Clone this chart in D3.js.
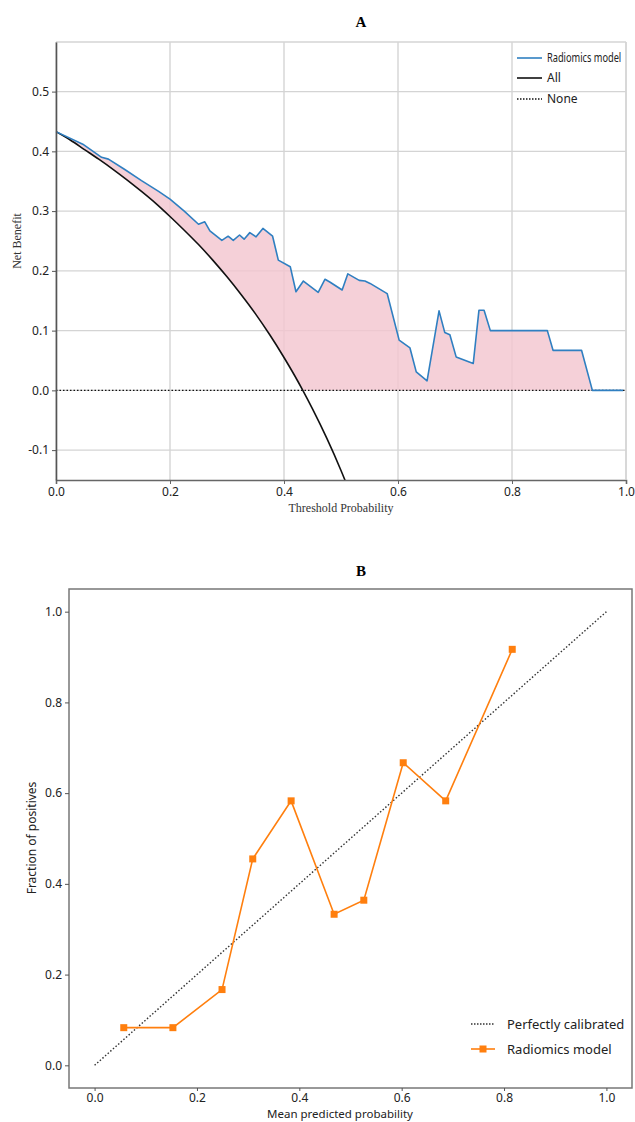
<!DOCTYPE html>
<html>
<head>
<meta charset="utf-8">
<script src="https://cdn.jsdelivr.net/npm/d3@7"></script>
<style>
  body { margin: 0; background: #fff; }
  .tick text { font-family: "Noto Sans", "Open Sans", sans-serif; font-size: 12px; fill: #222; }
  .serif { font-family: "Liberation Serif", "DejaVu Serif", serif; }
</style>
</head>
<body>
<div id="chart"></div>
<script>
// decision curve (A)
var modelThreshold = [0, 0.047, 0.080, 0.092, 0.12, 0.15, 0.18, 0.2, 0.225, 0.25, 0.261, 0.270, 0.291, 0.302, 0.311, 0.322, 0.330, 0.340, 0.351, 0.363, 0.380, 0.390, 0.411, 0.421, 0.434, 0.460, 0.472, 0.481, 0.502, 0.512, 0.532, 0.542, 0.551, 0.581, 0.602, 0.621, 0.632, 0.651, 0.672, 0.682, 0.691, 0.702, 0.732, 0.742, 0.751, 0.762, 0.862, 0.872, 0.922, 0.941, 0.995];
var modelNB = [0.433, 0.412, 0.390, 0.387, 0.370, 0.351, 0.333, 0.320, 0.300, 0.278, 0.282, 0.267, 0.251, 0.258, 0.251, 0.260, 0.253, 0.264, 0.257, 0.271, 0.258, 0.218, 0.207, 0.165, 0.183, 0.164, 0.186, 0.181, 0.168, 0.195, 0.184, 0.183, 0.179, 0.162, 0.084, 0.071, 0.031, 0.016, 0.133, 0.097, 0.093, 0.056, 0.045, 0.134, 0.134, 0.100, 0.100, 0.067, 0.067, 0.0, 0.0];
var allThreshold = [0, 0.025, 0.05, 0.075, 0.1, 0.125, 0.15, 0.175, 0.2, 0.225, 0.25, 0.275, 0.3, 0.325, 0.35, 0.375, 0.4, 0.425, 0.433, 0.45, 0.475, 0.5, 0.525];
var allNB = [0.433, 0.419, 0.403, 0.387, 0.370, 0.352, 0.333, 0.313, 0.291, 0.268, 0.244, 0.218, 0.190, 0.160, 0.128, 0.093, 0.055, 0.014, 0.0, -0.031, -0.080, -0.134, -0.194];
var dcaXTicks = [0, 0.2, 0.4, 0.6, 0.8, 1.0];
var dcaYTicks = [-0.1, 0, 0.1, 0.2, 0.3, 0.4, 0.5];

// calibration curve (B)
var calPredicted = [0.057, 0.153, 0.249, 0.309, 0.384, 0.468, 0.526, 0.603, 0.686, 0.816];
var calObserved = [0.083, 0.083, 0.167, 0.455, 0.583, 0.333, 0.364, 0.667, 0.583, 0.917];
var calTicks = [0, 0.2, 0.4, 0.6, 0.8, 1.0];

var svg = d3.select("#chart").append("svg")
    .attr("width", 635)
    .attr("height", 1122);

// ---------- chart A ----------
var xA = d3.scaleLinear().domain([0, 1]).range([56, 626]);
var yA = d3.scaleLinear().domain([-0.15, 0.583]).range([480, 42]);

var gA = svg.append("g");

var clipA = svg.append("defs").append("clipPath").attr("id", "clipA")
    .append("rect")
    .attr("x", xA(0)).attr("y", yA(0.583))
    .attr("width", xA(1) - xA(0)).attr("height", yA(-0.15) - yA(0.583));

// grid
gA.append("g").selectAll("line").data(dcaXTicks).join("line")
    .attr("x1", d => xA(d)).attr("x2", d => xA(d))
    .attr("y1", yA(0.583)).attr("y2", yA(-0.15))
    .attr("stroke", "#d4d4d4").attr("stroke-width", 1.4);
gA.append("g").selectAll("line").data(dcaYTicks).join("line")
    .attr("x1", xA(0)).attr("x2", xA(1))
    .attr("y1", d => yA(d)).attr("y2", d => yA(d))
    .attr("stroke", "#d4d4d4").attr("stroke-width", 1.4);
gA.append("line")
    .attr("x1", xA(0)).attr("x2", xA(1)).attr("y1", yA(0.583)).attr("y2", yA(0.583))
    .attr("stroke", "#d4d4d4").attr("stroke-width", 1.4);

// filled net benefit region
var modelPts = modelThreshold.map((t, i) => [t, modelNB[i]]);
var allPts = allThreshold.map((t, i) => [t, allNB[i]]);
var lowerPts = allPts.filter(d => d[1] >= 0).reverse();
var fillPts = modelPts.concat([[1, 0]], lowerPts);

var lineA = d3.line().x(d => xA(d[0])).y(d => yA(d[1]));

gA.append("path")
    .datum(fillPts)
    .attr("d", lineA)
    .attr("fill", "#f3c6d0")
    .attr("fill-opacity", 0.82)
    .attr("stroke", "none");

// treat all
gA.append("path")
    .datum(allPts)
    .attr("clip-path", "url(#clipA)")
    .attr("d", d3.line().x(d => xA(d[0])).y(d => yA(d[1])).curve(d3.curveMonotoneX))
    .attr("fill", "none")
    .attr("stroke", "#111")
    .attr("stroke-width", 1.6);

// treat none
gA.append("line")
    .attr("x1", xA(0)).attr("x2", xA(1)).attr("y1", yA(0)).attr("y2", yA(0))
    .attr("stroke", "#111").attr("stroke-width", 1.4).attr("stroke-dasharray", "1.5,2");

// model
gA.append("path")
    .datum(modelPts)
    .attr("d", lineA)
    .attr("fill", "none")
    .attr("stroke", "#2f7fc1")
    .attr("stroke-width", 1.6)
    .attr("stroke-linejoin", "round");

// axes
gA.append("g")
    .attr("transform", "translate(0," + yA(-0.15) + ")")
    .call(d3.axisBottom(xA).tickValues(dcaXTicks).tickFormat(d3.format(".1f")).tickSize(4))
    .call(g => g.select(".domain").attr("stroke", "#666").attr("stroke-width", 1.6))
    .call(g => g.selectAll(".tick line").attr("stroke", "#666"));
gA.append("g")
    .attr("transform", "translate(" + xA(0) + ",0)")
    .call(d3.axisLeft(yA).tickValues(dcaYTicks).tickFormat(d3.format(".1f")).tickSize(4).tickSizeOuter(0))
    .call(g => g.select(".domain").attr("stroke", "#555").attr("stroke-width", 1.6))
    .call(g => g.selectAll(".tick line").attr("stroke", "#555"));
gA.selectAll(".tick text").text(function () { return this.textContent.replace("−", "-"); });

gA.append("line")
    .attr("x1", xA(1)).attr("x2", xA(1)).attr("y1", yA(0.583)).attr("y2", yA(-0.15))
    .attr("stroke", "#d4d4d4").attr("stroke-width", 1.4);

// labels
svg.append("text").attr("class", "serif")
    .attr("x", 361).attr("y", 27).attr("text-anchor", "middle")
    .style("font-size", "15px").style("font-weight", "bold").text("A");
svg.append("text").attr("class", "serif")
    .attr("x", 341).attr("y", 512).attr("text-anchor", "middle")
    .style("font-size", "12px").style("fill", "#333").text("Threshold Probability");
svg.append("text").attr("class", "serif")
    .attr("transform", "translate(21,241) rotate(-90)").attr("text-anchor", "middle")
    .style("font-size", "12px").style("fill", "#333").text("Net Benefit");

// legend A
var legA = [
    { name: "Radiomics model", color: "#2f7fc1", dash: null, sx: 0.77 },
    { name: "All", color: "#111", dash: null, sx: 1 },
    { name: "None", color: "#111", dash: "1.5,1.5", sx: 1 }
];
var legAG = svg.append("g").selectAll("g").data(legA).join("g")
    .attr("transform", (d, i) => "translate(517," + [58, 78, 99][i] + ")");
legAG.append("line")
    .attr("x1", 0).attr("x2", 25)
    .attr("stroke", d => d.color).attr("stroke-width", 1.6)
    .attr("stroke-dasharray", d => d.dash);
legAG.append("text")
    .attr("transform", d => "translate(30,0) scale(" + d.sx + ",1)")
    .attr("dy", "0.35em")
    .style("font-family", "'Noto Sans', sans-serif")
    .style("font-size", "12px")
    .style("fill", "#222")
    .text(d => d.name);

// ---------- chart B ----------
var xB = d3.scaleLinear().domain([-0.05, 1.05]).range([69, 632]);
var yB = d3.scaleLinear().domain([-0.05, 1.05]).range([1088, 589]);

var gB = svg.append("g");

gB.append("rect")
    .attr("x", xB(-0.05)).attr("y", yB(1.05))
    .attr("width", xB(1.05) - xB(-0.05)).attr("height", yB(-0.05) - yB(1.05))
    .attr("fill", "none").attr("stroke", "#777").attr("stroke-width", 1.5);

gB.append("g")
    .attr("transform", "translate(0," + yB(-0.05) + ")")
    .call(d3.axisBottom(xB).tickValues(calTicks).tickFormat(d3.format(".1f")).tickSize(3).tickPadding(2).tickSizeOuter(0))
    .call(g => g.select(".domain").remove())
    .call(g => g.selectAll(".tick line").attr("stroke", "#555"));
gB.append("g")
    .attr("transform", "translate(" + xB(-0.05) + ",0)")
    .call(d3.axisLeft(yB).tickValues(calTicks).tickFormat(d3.format(".1f")).tickSize(4).tickSizeOuter(0))
    .call(g => g.select(".domain").remove())
    .call(g => g.selectAll(".tick line").attr("stroke", "#555"));

// perfectly calibrated
gB.append("line")
    .attr("x1", xB(0)).attr("y1", yB(0)).attr("x2", xB(1)).attr("y2", yB(1))
    .attr("stroke", "#333").attr("stroke-width", 1.4).attr("stroke-dasharray", "1.5,2");

var calPts = calPredicted.map((p, i) => [p, calObserved[i]]);
gB.append("path")
    .datum(calPts)
    .attr("d", d3.line().x(d => xB(d[0])).y(d => yB(d[1])))
    .attr("fill", "none").attr("stroke", "#ff7f0e").attr("stroke-width", 1.6);
gB.append("g").selectAll("rect").data(calPts).join("rect")
    .attr("x", d => xB(d[0]) - 3.5).attr("y", d => yB(d[1]) - 3.5)
    .attr("width", 7).attr("height", 7)
    .attr("fill", "#ff7f0e");

svg.append("text").attr("class", "serif")
    .attr("x", 361).attr("y", 576).attr("text-anchor", "middle")
    .style("font-size", "15px").style("font-weight", "bold").text("B");
svg.append("text")
    .attr("x", 340).attr("y", 1118).attr("text-anchor", "middle")
    .style("font-family", "'Noto Sans', sans-serif").style("font-size", "11.5px").style("fill", "#222")
    .text("Mean predicted probability");
svg.append("text")
    .attr("transform", "translate(36,838) rotate(-90)").attr("text-anchor", "middle")
    .style("font-family", "'Noto Sans', sans-serif").style("font-size", "12px").style("fill", "#222")
    .text("Fraction of positives");

// legend B
var legB = svg.append("g");
legB.append("line")
    .attr("x1", 471).attr("x2", 495).attr("y1", 1024).attr("y2", 1024)
    .attr("stroke", "#333").attr("stroke-width", 1.4).attr("stroke-dasharray", "1.5,1.5");
legB.append("text")
    .attr("x", 507).attr("y", 1024).attr("dy", "0.35em")
    .style("font-family", "'Noto Sans', sans-serif").style("font-size", "13px").style("fill", "#222")
    .text("Perfectly calibrated");
legB.append("line")
    .attr("x1", 471).attr("x2", 495).attr("y1", 1049).attr("y2", 1049)
    .attr("stroke", "#ff7f0e").attr("stroke-width", 1.6);
legB.append("rect")
    .attr("x", 479.5).attr("y", 1045.5).attr("width", 7).attr("height", 7)
    .attr("fill", "#ff7f0e");
legB.append("text")
    .attr("x", 507).attr("y", 1049).attr("dy", "0.35em")
    .style("font-family", "'Noto Sans', sans-serif").style("font-size", "13px").style("fill", "#222")
    .text("Radiomics model");
</script>
</body>
</html>
